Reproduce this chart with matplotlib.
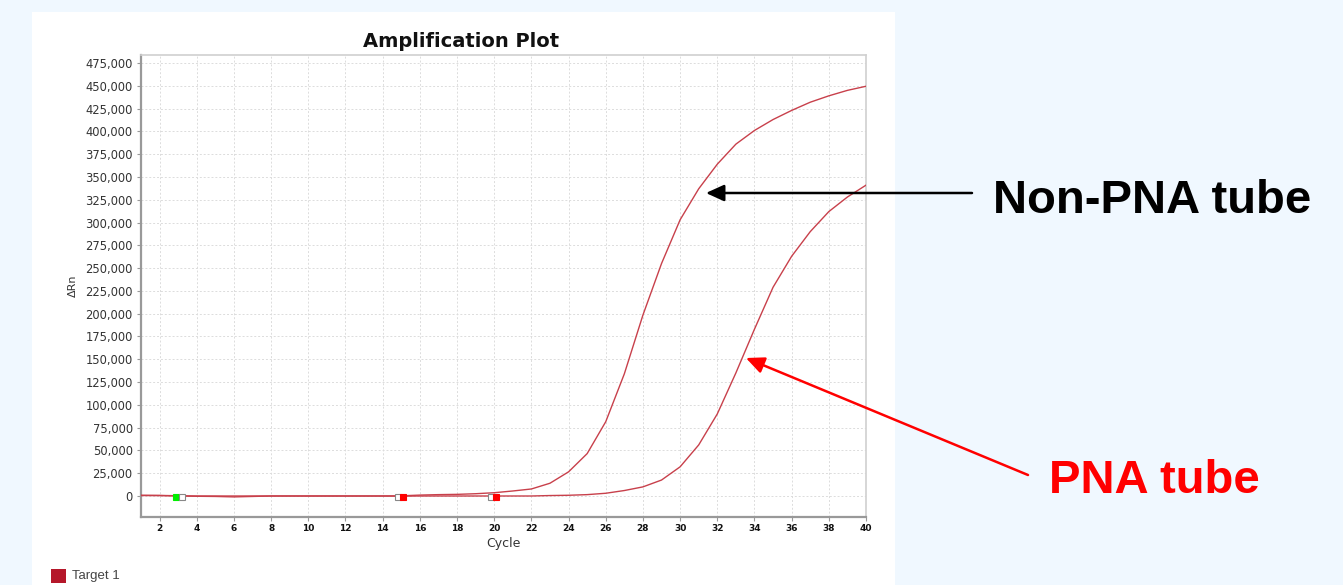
import numpy as np
import matplotlib
matplotlib.use('Agg')
import matplotlib.pyplot as plt
from matplotlib.patches import Rectangle
from matplotlib.font_manager import FontProperties
from matplotlib.ticker import FuncFormatter, MultipleLocator

# Data
cycles = list(range(1, 41))
non_pna = [500, 500, 0, -300, -500, -1000, -500, 0, 0, 0,
           0, 0, 0, 0, 200, 1000, 1500, 1800, 2500, 3600,
           5500, 7700, 14000, 26500, 46500, 81500, 134000, 198500, 255000, 303000,
           337000, 364000, 386000, 401000, 413000, 423000, 432000, 439000, 445000, 449500]
pna = [800, 600, 300, 0, 0, 0, 0, 0, 0, 0,
       0, 0, 0, 0, -200, 0, 0, 0, 0, 0,
       0, 0, 500, 800, 1500, 3000, 6000, 10000, 17500, 32000,
       56000, 90000, 135000, 183000, 229000, 263000, 290000, 312000, 328000, 341000]

# baseline / threshold markers (cycle, colour)
marker_cycles = [2.86, 3.19, 14.83, 15.12, 19.82, 20.1]
marker_colors = ['#00ee00', 'white', 'white', '#ff0000', 'white', '#ff0000']
marker_value = -1600

W, H = 1343, 585
fig = plt.figure(figsize=(W / 100, H / 100), dpi=100)
fig.patch.set_facecolor('#f0f8ff')

# white panel behind the chart
panel = fig.add_axes([32 / W, 0, (895 - 32) / W, (585 - 12) / H], zorder=-5)
panel.axis('off')
panel.add_patch(Rectangle((0, 0), 1, 1, transform=panel.transAxes,
                          facecolor='white', edgecolor='none'))

ax = fig.add_axes([141 / W, 1 - 517 / H, (866 - 141) / W, (517 - 55) / H])
ax.set_facecolor('white')

line_color = '#c8404b'
ax.plot(cycles, non_pna, color=line_color, lw=1.0, zorder=3)
ax.plot(cycles, pna, color=line_color, lw=1.0, zorder=3)

for c, col in zip(marker_cycles, marker_colors):
    ax.plot([c], [marker_value], marker='s', ms=4.3, mfc=col,
            mec='#888888' if col == 'white' else col, mew=0.8, zorder=4, ls='none')

ax.set_xlim(1, 40)
ax.set_ylim(-23040, 483800)
ax.yaxis.set_major_locator(MultipleLocator(25000))
ax.yaxis.set_major_formatter(FuncFormatter(lambda v, p: f'{int(v):,}'))
ax.set_xticks(range(2, 41, 2))

ax.grid(True, color='#dcdcdc', lw=0.7, ls=(0, (2, 2)))
ax.set_axisbelow(True)

for s in ['left', 'bottom']:
    ax.spines[s].set_color('#999999')
    ax.spines[s].set_linewidth(1.6)
for s in ['top', 'right']:
    ax.spines[s].set_color('#d0d0d0')
    ax.spines[s].set_linewidth(1.2)

ax.tick_params(axis='y', length=3, color='#999999', labelsize=8.3,
               labelcolor='#333333', pad=3)
ax.tick_params(axis='x', length=3, color='#999999', labelsize=6.5,
               labelcolor='#111111', pad=2)
for lbl in ax.get_xticklabels():
    lbl.set_fontweight('bold')

ax.set_xlabel('Cycle', fontsize=9, color='#333333', labelpad=3)
ax.set_ylabel('ΔRn', fontsize=8, color='#333333', labelpad=5)

fig.text(461 / W, 1 - 47 / H, 'Amplification Plot', ha='center', va='baseline',
         fontsize=14, fontweight='bold', color='#111111')

# legend
fig.patches.append(Rectangle((51 / W, 1 - 583 / H), 15 / W, 14 / H,
                             transform=fig.transFigure, facecolor='#b5172a',
                             edgecolor='none'))
fig.text(72 / W, 1 - 576 / H, 'Target 1', va='center', ha='left',
         fontsize=9.5, color='#444444', family='Liberation Sans')

# annotations
arrow_style = '-|>,head_length=0.55,head_width=0.25'
ax.annotate('', xy=(31.39, 332400), xycoords='data',
            xytext=(972 / W, 1 - 193 / H), textcoords='figure fraction',
            arrowprops=dict(arrowstyle=arrow_style, mutation_scale=20,
                            color='black', lw=1.8, shrinkA=0, shrinkB=0),
            annotation_clip=False)
ax.annotate('', xy=(33.54, 151400), xycoords='data',
            xytext=(1028 / W, 1 - 475 / H), textcoords='figure fraction',
            arrowprops=dict(arrowstyle=arrow_style, mutation_scale=20,
                            color='#ff0000', lw=1.8, shrinkA=0, shrinkB=0),
            annotation_clip=False)

big_font = FontProperties(family='Liberation Sans', weight='bold', size=34)
fig.text(993 / W, 1 - 213 / H, 'Non-PNA tube', ha='left', va='baseline',
         fontproperties=big_font, color='black')
fig.text(1049 / W, 1 - 493 / H, 'PNA tube', ha='left', va='baseline',
         fontproperties=big_font, color='#ff0000')

fig.savefig('out.png', dpi=100, facecolor=fig.get_facecolor())
